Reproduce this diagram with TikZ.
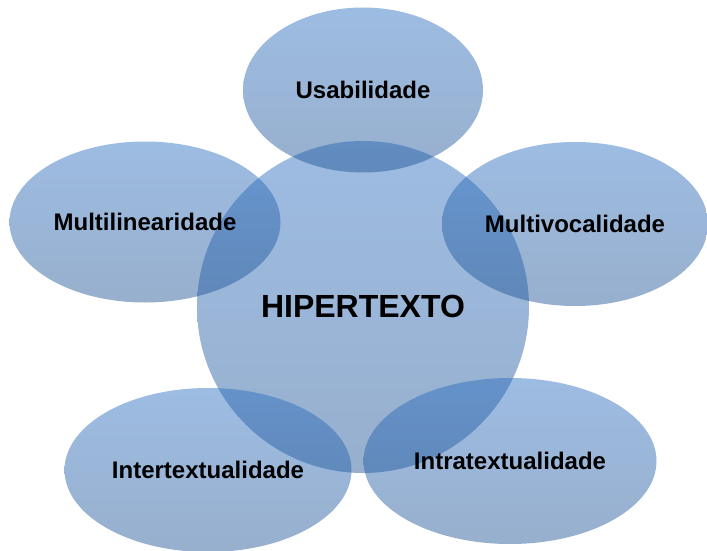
\documentclass[tikz,border=0pt]{standalone}
\usepackage{fontspec}
\setmainfont{Liberation Sans}
\usetikzlibrary{shapes.geometric}
\definecolor{bubbletop}{RGB}{38,107,191}
\definecolor{bubblebottom}{RGB}{25,78,145}

\begin{document}
\begin{tikzpicture}[x=1pt, y=-1pt,
    bubble/.style={ellipse, inner sep=0pt, top color=bubbletop, bottom color=bubblebottom,
                   fill opacity=0.45, text opacity=1, font=\fontsize{24}{28}\selectfont\bfseries}]
    \useasboundingbox (0,0) rectangle (707,551);
    % central circle first, so the labels stay on top
    \node[bubble, circle, minimum size=332pt, font=\fontsize{32}{38}\selectfont\bfseries] (hiper) at (363,307) {\raisebox{2pt}{HIPERTEXTO}};
    \node[bubble, minimum width=240pt, minimum height=165pt] (usab) at (363,90) {Usabilidade};
    \node[bubble, minimum width=271pt, minimum height=161pt] (multilin) at (145,222) {Multilinearidade};
    \node[bubble, minimum width=266pt, minimum height=164pt] (multivoc) at (575,224) {Multivocalidade};
    \node[bubble, minimum width=287pt, minimum height=164pt] (inter) at (208,470) {Intertextualidade};
    \node[bubble, minimum width=293pt, minimum height=166pt] (intra) at (510,461) {Intratextualidade};
\end{tikzpicture}
\end{document}
